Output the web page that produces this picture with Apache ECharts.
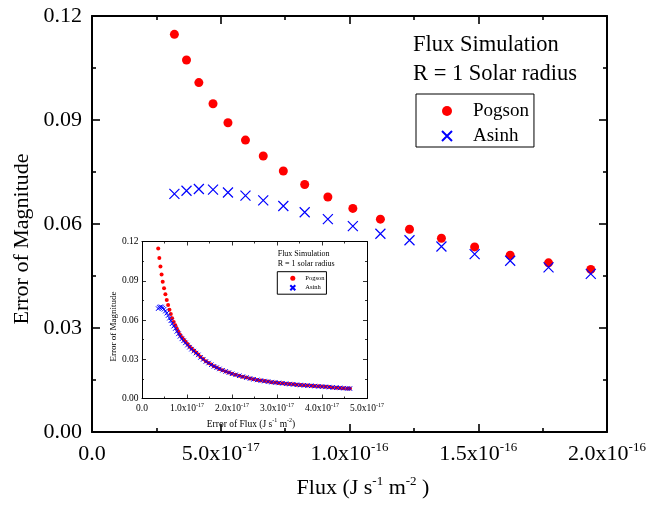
<!DOCTYPE html>
<html>
<head>
<meta charset="utf-8">
<script src="https://cdn.jsdelivr.net/npm/echarts@6/dist/echarts.min.js"></script>
<style>
  html, body { margin: 0; padding: 0; background: #fff; }
  #chart { width: 650px; height: 509px; }
</style>
</head>
<body>
<div id="chart"></div>
<script>
// Simulated source flux, in units of 1e-17 J s^-1 m^-2
const flux = [3.20, 3.67, 4.15, 4.70, 5.28, 5.96, 6.65, 7.43, 8.26, 9.16,
  10.13, 11.20, 12.33, 13.57, 14.86, 16.24, 17.73, 19.37];
// Magnitude error for the two magnitude systems
const pogsonErr = [0.1147, 0.1073, 0.1008, 0.0947, 0.0892, 0.0842, 0.0796, 0.0753, 0.0714, 0.0678,
  0.0645, 0.0614, 0.0585, 0.0559, 0.0534, 0.0510, 0.0488, 0.0469];
const asinhErr = [0.0687, 0.0696, 0.0701, 0.0699, 0.0691, 0.0682, 0.0668, 0.0652, 0.0634, 0.0614,
  0.0594, 0.0572, 0.0553, 0.0535, 0.0513, 0.0494, 0.0475, 0.0456];

// Inset: magnitude error against flux error (1e-17 J s^-1 m^-2)
const fluxErr = [0.36, 0.385, 0.41, 0.435, 0.46, 0.49, 0.52, 0.55, 0.58, 0.61,
  0.64, 0.67, 0.705, 0.74, 0.775, 0.81, 0.845, 0.885, 0.925, 0.965,
  1.01, 1.055, 1.10, 1.15, 1.20, 1.25, 1.30, 1.36, 1.42, 1.48,
  1.54, 1.60, 1.66, 1.72, 1.79, 1.86, 1.93, 2.00, 2.08, 2.16,
  2.24, 2.32, 2.40, 2.48, 2.56, 2.64, 2.72, 2.80, 2.88, 2.96,
  3.04, 3.12, 3.20, 3.28, 3.36, 3.44, 3.52, 3.60, 3.68, 3.76,
  3.84, 3.92, 4.00, 4.08, 4.16, 4.24, 4.32, 4.40, 4.48, 4.56, 4.62];
const insetPogson = [0.1147, 0.1073, 0.1008, 0.0947, 0.0892, 0.0842, 0.0796, 0.0753, 0.0714, 0.0678,
  0.0645, 0.0614, 0.0585, 0.0559, 0.0534, 0.0510, 0.0488, 0.0469, 0.0451, 0.0434,
  0.0416, 0.0398, 0.0382, 0.0366, 0.0351, 0.0336, 0.0317, 0.0301, 0.0285, 0.0272,
  0.0259, 0.0247, 0.0236, 0.0226, 0.0216, 0.0207, 0.0198, 0.0189, 0.0181, 0.0174,
  0.0167, 0.0160, 0.0153, 0.0147, 0.0142, 0.0137, 0.0133, 0.0129, 0.0125, 0.0122,
  0.0119, 0.0116, 0.0113, 0.0110, 0.0108, 0.0105, 0.0103, 0.0101, 0.0099, 0.0097,
  0.0095, 0.0093, 0.0091, 0.0089, 0.0087, 0.0085, 0.0083, 0.0081, 0.0079, 0.0077, 0.0076];
const insetAsinh = [0.0687, 0.0696, 0.0701, 0.0699, 0.0691, 0.0682, 0.0668, 0.0652, 0.0634, 0.0614,
  0.0594, 0.0572, 0.0553, 0.0535, 0.0513, 0.0494, 0.0475, 0.0456, 0.0441, 0.0425,
  0.0408, 0.0392, 0.0377, 0.0362, 0.0347, 0.0333, 0.0314, 0.0299, 0.0283, 0.0271,
  0.0258, 0.0246, 0.0236, 0.0226, 0.0216, 0.0207, 0.0198, 0.0189, 0.0181, 0.0174,
  0.0167, 0.0160, 0.0153, 0.0147, 0.0142, 0.0137, 0.0133, 0.0129, 0.0125, 0.0122,
  0.0119, 0.0116, 0.0113, 0.0110, 0.0108, 0.0105, 0.0103, 0.0101, 0.0099, 0.0097,
  0.0095, 0.0093, 0.0091, 0.0089, 0.0087, 0.0085, 0.0083, 0.0081, 0.0079, 0.0077, 0.0076];

// Tick labels: mantissa and power of ten
const mainXMantissa = ['0.0', '5.0', '1.0', '1.5', '2.0'];
const mainXExponent = ['', '-17', '-16', '-16', '-16'];
const insetXMantissa = ['0.0', '1.0', '2.0', '3.0', '4.0', '5.0'];
const insetXExponent = ['', '-17', '-17', '-17', '-17', '-17'];

const FONT = "'Liberation Serif', 'Times New Roman', serif";
const RED = '#ff0000';
const BLUE = '#0000ff';
const CROSS = 'path://M0,0L10,10M10,0L0,10';

function sciLabel(mant, exp) {
  return exp ? '{m|' + mant + 'x10}{e|' + exp + '}' : '{m|' + mant + '}';
}

// rich styles: m/t = normal text, e = raised exponent
function richSet(big, small, lh, raise) {
  return {
    m: { fontFamily: FONT, fontSize: big, lineHeight: lh, color: '#000', verticalAlign: 'middle' },
    t: { fontFamily: FONT, fontSize: big, lineHeight: lh, color: '#000', verticalAlign: 'middle' },
    e: { fontFamily: FONT, fontSize: small, lineHeight: small, color: '#000', verticalAlign: 'middle',
         padding: [0, 0, raise, 0] }
  };
}

function pairs(xs, ys) { return xs.map((x, i) => [x, ys[i]]); }

function valueAxis(o) {
  const lw = o.lw;
  return Object.assign({
    type: 'value',
    splitLine: { show: false },
    minorSplitLine: { show: false },
    axisLine: { show: true, onZero: false, lineStyle: { color: '#000', width: lw } },
    axisTick: { show: true, inside: true, length: o.tick, lineStyle: { color: '#000', width: lw * 0.8 } },
    minorTick: { show: true, splitNumber: 2, length: o.minor, lineStyle: { color: '#000', width: lw * 0.8 } }
  }, o.extra);
}

const chart = echarts.init(document.getElementById('chart'), null, { renderer: 'canvas' });

const mainRich = richSet(22, 13, 30, 12);
const insetRich = richSet(9.5, 6, 13, 7);

const option = {
  backgroundColor: '#fff',
  animation: false,
  grid: [
    { left: 92, top: 16, right: 43, bottom: 77, outerBoundsMode: 'none', containLabel: false },
    { left: 142, top: 241.5, right: 283, bottom: 110.5, outerBoundsMode: 'none', containLabel: false,
      show: true, backgroundColor: '#fff', borderWidth: 0 }
  ],
  xAxis: [
    valueAxis({ lw: 2, tick: 8, minor: 4, extra: {
      gridIndex: 0, position: 'bottom', min: 0, max: 20, interval: 5,
      axisLabel: { margin: 7, formatter: v => { const i = Math.round(v / 5); return sciLabel(mainXMantissa[i], mainXExponent[i]); }, rich: mainRich },
      name: '{t|Flux (J s}{e|-1}{t| m}{e|-2}{t| )}', nameLocation: 'middle', nameGap: 41, nameMoveOverlap: false,
      nameTextStyle: { rich: mainRich, padding: [0, 0, 0, 27] }
    }}),
    valueAxis({ lw: 2, tick: 8, minor: 4, extra: {
      gridIndex: 0, position: 'top', min: 0, max: 20, interval: 5, axisLabel: { show: false }
    }}),
    valueAxis({ lw: 1, tick: 4, minor: 2, extra: {
      gridIndex: 1, position: 'bottom', min: 0, max: 5, interval: 1,
      axisLabel: { margin: 3.5, formatter: v => { const i = Math.round(v); return sciLabel(insetXMantissa[i], insetXExponent[i]); }, rich: insetRich },
      name: '{t|Error of Flux (J s}{e|-1}{t| m}{e|-2}{t|)}', nameLocation: 'middle', nameGap: 19, nameMoveOverlap: false,
      nameTextStyle: { rich: insetRich, padding: [0, 7, 0, 0] }
    }}),
    valueAxis({ lw: 1, tick: 4, minor: 2, extra: {
      gridIndex: 1, position: 'top', min: 0, max: 5, interval: 1, axisLabel: { show: false }
    }})
  ],
  yAxis: [
    valueAxis({ lw: 2, tick: 8, minor: 4, extra: {
      gridIndex: 0, position: 'left', min: 0, max: 0.12, interval: 0.03,
      axisLabel: { margin: 10, formatter: v => v.toFixed(2), fontFamily: FONT, fontSize: 22, color: '#000' },
      name: 'Error of Magnitude', nameLocation: 'middle', nameGap: 59, nameMoveOverlap: false,
      nameTextStyle: { fontFamily: FONT, fontSize: 22, color: '#000', padding: [0, 30, 0, 0] }
    }}),
    valueAxis({ lw: 2, tick: 8, minor: 4, extra: {
      gridIndex: 0, position: 'right', min: 0, max: 0.12, interval: 0.03, axisLabel: { show: false }
    }}),
    valueAxis({ lw: 1, tick: 4, minor: 2, extra: {
      gridIndex: 1, position: 'left', min: 0, max: 0.12, interval: 0.03,
      axisLabel: { margin: 3.5, formatter: v => v.toFixed(2), fontFamily: FONT, fontSize: 9.5, color: '#000' },
      name: 'Error of Magnitude', nameLocation: 'middle', nameGap: 24, nameMoveOverlap: false,
      nameTextStyle: { fontFamily: FONT, fontSize: 9, color: '#000', padding: [0, 13, 0, 0] }
    }}),
    valueAxis({ lw: 1, tick: 4, minor: 2, extra: {
      gridIndex: 1, position: 'right', min: 0, max: 0.12, interval: 0.03, axisLabel: { show: false }
    }})
  ],
  legend: [
    {
      data: ['Pogson', 'Asinh'], orient: 'vertical', left: 416, top: 94,
      itemWidth: 10, itemHeight: 10, itemGap: 5, padding: [7, 5, 1, 25],
      borderColor: '#000', borderWidth: 1, selectedMode: false,
      textStyle: { fontFamily: FONT, fontSize: 19, lineHeight: 20, color: '#000', padding: [0, 0, 0, 16] }
    },
    {
      data: ['Pogson', 'Asinh'], orient: 'vertical', left: 277.3, top: 271.7,
      itemWidth: 5, itemHeight: 5, itemGap: 0.5, padding: [2, 2, 2, 12],
      borderColor: '#000', borderWidth: 1, selectedMode: false,
      textStyle: { fontFamily: FONT, fontSize: 6.5, lineHeight: 9, color: '#000', padding: [0, 0, 0, 5] }
    }
  ],
  graphic: [
    { type: 'text', x: 413, y: 45, style: { text: 'Flux Simulation', font: '22.5px ' + FONT, fill: '#000', verticalAlign: 'middle', textVerticalAlign: 'middle' } },
    { type: 'text', x: 413, y: 74, style: { text: 'R = 1 Solar radius', font: '22.5px ' + FONT, fill: '#000', verticalAlign: 'middle', textVerticalAlign: 'middle' } },
    { type: 'text', x: 277.7, y: 254, z: 10, style: { text: 'Flux Simulation', font: '8px ' + FONT, fill: '#000', verticalAlign: 'middle', textVerticalAlign: 'middle' } },
    { type: 'text', x: 277.7, y: 264.3, z: 10, style: { text: 'R = 1 solar radius', font: '8px ' + FONT, fill: '#000', verticalAlign: 'middle', textVerticalAlign: 'middle' } }
  ],
  series: [
    { name: 'Pogson', type: 'scatter', xAxisIndex: 0, yAxisIndex: 0, data: pairs(flux, pogsonErr),
      symbol: 'circle', symbolSize: 9, itemStyle: { color: RED, opacity: 1 } },
    { name: 'Asinh', type: 'scatter', xAxisIndex: 0, yAxisIndex: 0, data: pairs(flux, asinhErr),
      symbol: CROSS, symbolSize: 10, symbolKeepAspect: true,
      itemStyle: { color: BLUE, borderColor: BLUE, borderWidth: 1.2, opacity: 1 } },
    { name: 'Pogson', type: 'scatter', xAxisIndex: 2, yAxisIndex: 2, data: pairs(fluxErr, insetPogson),
      symbol: 'circle', symbolSize: 4, itemStyle: { color: RED, opacity: 1 } },
    { name: 'Asinh', type: 'scatter', xAxisIndex: 2, yAxisIndex: 2, data: pairs(fluxErr, insetAsinh),
      symbol: CROSS, symbolSize: 4.5, symbolKeepAspect: true,
      itemStyle: { color: BLUE, borderColor: BLUE, borderWidth: 1, opacity: 1 } }
  ]
};

chart.setOption(option);
</script>
</body>
</html>
